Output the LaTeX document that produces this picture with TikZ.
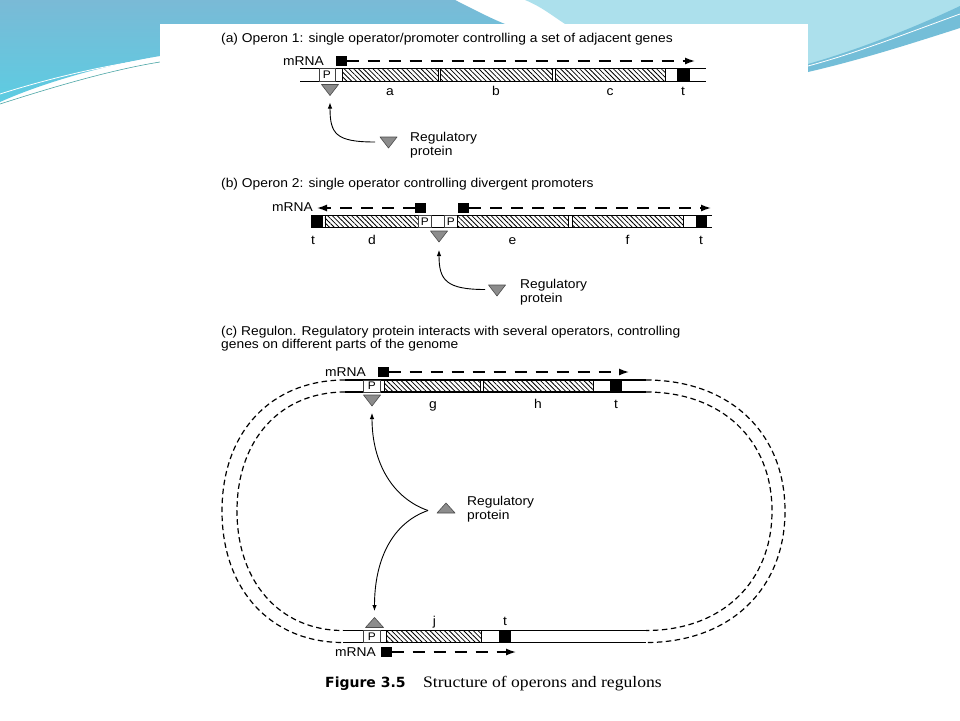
\documentclass[tikz,border=0pt]{standalone}
\usepackage{fontspec}
\setmainfont{Liberation Sans}[FakeStretch=1.08]
\newfontfamily\capsans{DejaVu Sans}
\newfontfamily\capserif{Liberation Serif}[FakeStretch=1.1]
\usetikzlibrary{patterns.meta,arrows.meta}
\definecolor{bgblue}{RGB}{122,186,214}
\definecolor{bgcyan}{RGB}{172,224,236}
\definecolor{bgteal}{RGB}{92,204,226}
\definecolor{trifill}{RGB}{140,140,140}
\begin{document}
\begin{tikzpicture}[x=1pt,y=-1pt,
  dna/.style={line width=1.2pt},
  gene/.style={draw, line width=0.6pt, rectangle, inner sep=0pt, anchor=west,
    pattern={Lines[angle=-45,distance=3.4pt,line width=0.8pt]}},
  pbox/.style={draw=black!75, line width=0.6pt, fill=white, rectangle, inner sep=0pt,
    anchor=west, font=\fontsize{11}{12}\selectfont},
  tbox/.style={fill=black, rectangle, inner sep=0pt, anchor=west},
  sq/.style={fill=black, rectangle, inner sep=0pt, minimum width=11pt, minimum height=10pt},
  mrna/.style={line width=1.4pt, dash pattern=on 12pt off 9pt, -{Latex[length=10pt,width=7pt]}},
  lbl/.style={inner sep=0pt, font=\fontsize{12.8}{14}\selectfont},
  reg/.style={line width=0.9pt, -{Latex[length=6pt,width=4.5pt]}},
  tri/.style={fill=trifill, draw=black!70, line width=0.6pt, line join=round},
  strand/.style={line width=1.2pt, dash pattern=on 5.5pt off 3.5pt},
  downtri/.pic={\draw[tri] (-8.5,-5.5) -- (8.5,-5.5) -- (0,5.5) -- cycle;
    \coordinate (-tip) at (0,5.5);},
  uptri/.pic={\draw[tri] (-9,5) -- (9,5) -- (0,-5) -- cycle;
    \coordinate (-tip) at (0,-5);},
]
\useasboundingbox (0,0) rectangle (960,720);
% ---------- slide background ----------
\fill[white] (0,0) rectangle (960,720);
\shade[top color=bgblue, bottom color=bgteal] (0,0) -- (455,0) .. controls (475,10) and (490,18) .. (505,24)
  -- (160,24) -- (160,56) .. controls (100,66) and (40,84) .. (0,102) -- cycle;
\fill[bgcyan] (525,0) -- (960,0) -- (960,22) .. controls (900,42) and (850,58) .. (808,70)
  -- (808,24) -- (565,24) .. controls (550,14) and (540,6) .. (525,0) -- cycle;
\fill[bgblue!80!bgteal] (960,6) .. controls (905,32) and (850,52) .. (808,64) -- (808,72)
  .. controls (860,60) and (910,44) .. (960,28) -- cycle;
\draw[white, line width=0.8pt] (0,94) .. controls (50,78) and (110,64) .. (160,58);
\draw[teal!70, line width=0.6pt] (0,104) .. controls (50,88) and (110,70) .. (160,62);
\draw[white, line width=0.8pt] (808,66) .. controls (860,52) and (910,32) .. (960,14);
% ---------- figure panel ----------
\fill[white] (160,24) rectangle (808,700);

% ================= (a) =================
\node[lbl, anchor=base west] (titA) at (221,42) {(a) Operon 1: single operator/promoter controlling a set of adjacent genes};
\draw[dna] (300,68.5) -- (706,68.5) (300,81.5) -- (706,81.5);
\node[pbox, minimum width=16pt, minimum height=13pt] (pA) at (318.5,75) {P};
\node[gene, minimum width=96pt, minimum height=13pt] (ga) at (342,75) {};
\node[gene, minimum width=112pt, minimum height=13pt] (gb) at (440,75) {};
\node[gene, minimum width=110pt, minimum height=13pt] (gc) at (555,75) {};
\node[tbox, minimum width=13pt, minimum height=13pt] (tA) at (677,75) {};
\node[lbl, anchor=base] (la) at (390,95.5) {a};
\node[lbl, anchor=base] (lb) at (496,95.5) {b};
\node[lbl, anchor=base] (lc) at (610,95.5) {c};
\node[lbl, anchor=base] (lt) at (683,95.5) {t};
\node[lbl, anchor=base east] (mA) at (324,65) {mRNA};
\node[sq] (sA) at (341,61) {};
\coordinate (eA) at (695,61);
\draw[mrna] (sA.east) -- (eA);
\pic (opA) at (330,90) {downtri};
\pic (rgA) at (388.5,142.5) {downtri};
\coordinate (stA) at (375,142);
\draw[reg, shorten >=7pt] (stA) .. controls (336,142) and (330,134) .. (opA-tip);
\node[lbl, anchor=base west] (rA1) at (410,141.7) {Regulatory};
\node[lbl, anchor=base west] (rA2) at (410,155.7) {protein};

% ================= (b) =================
\node[lbl, anchor=base west] (titB) at (221,187.3) {(b) Operon 2: single operator controlling divergent promoters};
\draw[dna] (311,215.5) -- (712,215.5) (311,227.5) -- (712,227.5);
\node[tbox, minimum width=12pt, minimum height=12pt] (tB1) at (311,221.5) {};
\node[gene, minimum width=93.5pt, minimum height=12pt] (gd) at (324.5,221.5) {};
\node[pbox, minimum width=13pt, minimum height=12pt] (pB1) at (418,221.5) {P};
\node[pbox, minimum width=13pt, minimum height=12pt] (pB2) at (444,221.5) {P};
\node[gene, minimum width=111pt, minimum height=12pt] (ge) at (457,221.5) {};
\node[gene, minimum width=111pt, minimum height=12pt] (gf) at (572,221.5) {};
\node[tbox, minimum width=11pt, minimum height=12pt] (tB2) at (696,221.5) {};
\node[lbl, anchor=base] (lt1) at (313,244) {t};
\node[lbl, anchor=base] (ld) at (372,244) {d};
\node[lbl, anchor=base] (le) at (512.5,244) {e};
\node[lbl, anchor=base] (lf) at (627.5,244) {f};
\node[lbl, anchor=base] (lt2) at (701,244) {t};
\node[lbl, anchor=base east] (mB) at (313,211.7) {mRNA};
\node[sq] (sB1) at (420.5,208) {};
\node[sq] (sB2) at (463.5,208) {};
\coordinate (eB1) at (317,208);
\coordinate (eB2) at (711,208);
\draw[mrna] (sB1.west) -- (eB1);
\draw[mrna] (sB2.east) -- (eB2);
\pic (opB) at (439,236.5) {downtri};
\pic (rgB) at (497,290.5) {downtri};
\coordinate (stB) at (485,289.5);
\draw[reg, shorten >=8pt] (stB) .. controls (446,289.5) and (439,280) .. (opB-tip);
\node[lbl, anchor=base west] (rB1) at (520,288.3) {Regulatory};
\node[lbl, anchor=base west] (rB2) at (520,302.7) {protein};

% ================= (c) =================
\node[lbl, anchor=base west] (titC1) at (221,335.7) {(c) Regulon. Regulatory protein interacts with several operators, controlling};
\node[lbl, anchor=base west] (titC2) at (221,348.5) {genes on different parts of the genome};
% chromosome strands (dashed)
\draw[strand] (345,380) .. controls (271,380) and (222,432) .. (222,511)
  .. controls (222,590) and (271,642.5) .. (343,642.5);
\draw[strand] (345,392) .. controls (280,392) and (237,440) .. (237,511)
  .. controls (237,582) and (280,630.5) .. (343,630.5);
\draw[strand] (646,380) .. controls (729,380) and (785,432) .. (785,511)
  .. controls (785,590) and (729,642.5) .. (646,642.5);
\draw[strand] (646,392) .. controls (722,392) and (772,440) .. (772,511)
  .. controls (772,582) and (722,630.5) .. (646,630.5);
% top operon
\draw[dna] (345,380) -- (646,380) (345,392) -- (646,392);
\node[pbox, minimum width=17pt, minimum height=12pt] (pC) at (363,386) {P};
\node[gene, minimum width=96pt, minimum height=12pt] (gg) at (384,386) {};
\node[gene, minimum width=110pt, minimum height=12pt] (gh) at (483,386) {};
\node[tbox, minimum width=12pt, minimum height=12pt] (tC) at (610,386) {};
\node[lbl, anchor=base] (lg) at (433,408) {g};
\node[lbl, anchor=base] (lh) at (538,408) {h};
\node[lbl, anchor=base] (lt3) at (616,408) {t};
\node[lbl, anchor=base east] (mC) at (366,376.7) {mRNA};
\node[sq] (sC) at (383,372) {};
\coordinate (eC) at (629,372);
\draw[mrna] (sC.east) -- (eC);
\pic (opC) at (372,400.5) {downtri};
% bottom operon
\draw[dna] (343,630.5) -- (646,630.5) (343,642.5) -- (646,642.5);
\node[pbox, minimum width=17pt, minimum height=12pt] (pD) at (363,636.5) {P};
\node[gene, minimum width=95pt, minimum height=12pt] (gj) at (386,636.5) {};
\node[tbox, minimum width=12pt, minimum height=12pt] (tD) at (499,636.5) {};
\node[lbl, anchor=base] (lj) at (434.5,625) {j};
\node[lbl, anchor=base] (lt4) at (505,625) {t};
\node[lbl, anchor=base east] (mD) at (376,656.7) {mRNA};
\node[sq] (sD) at (386,652) {};
\coordinate (eD) at (516,652);
\draw[mrna] (sD.east) -- (eD);
\pic (opD) at (374.5,622.5) {uptri};
% regulatory protein
\pic (rgC) at (446,508) {uptri};
\coordinate (cusp) at (428,510.5);
\draw[reg, shorten >=7pt] (cusp) .. controls (392,498) and (372,462) .. (opC-tip);
\draw[reg, shorten >=6.5pt] (cusp) .. controls (392,523) and (374.5,560) .. (opD-tip);
\node[lbl, anchor=base west] (rC1) at (467,505) {Regulatory};
\node[lbl, anchor=base west] (rC2) at (467,519) {protein};

% ---------- caption ----------
\node[inner sep=0pt, anchor=base west, font=\capsans\bfseries\fontsize{14}{16}\selectfont] (capA) at (325,687.3) {Figure 3.5};
\node[inner sep=0pt, anchor=base west, font=\capserif\fontsize{16}{18}\selectfont] (capB) at (423,687.3) {Structure of operons and regulons};
\end{tikzpicture}
\end{document}
